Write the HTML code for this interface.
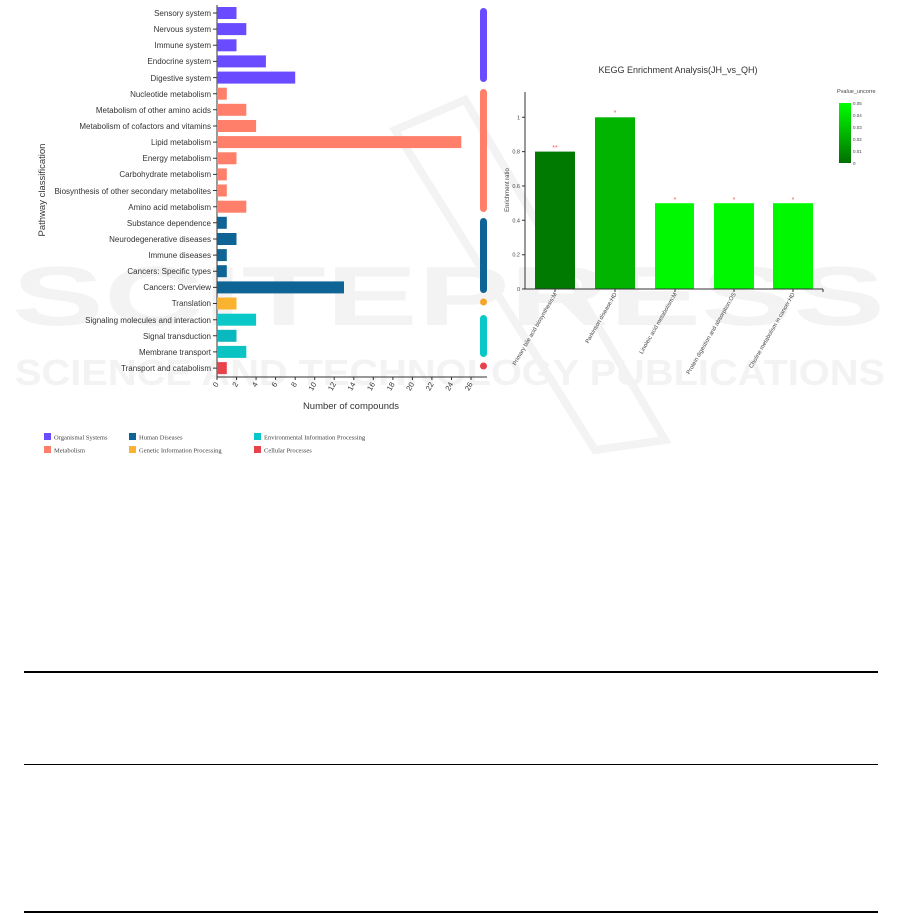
<!DOCTYPE html>
<html><head><meta charset="utf-8"><style>
html,body{margin:0;padding:0;background:#fff;}
svg{display:block;font-family:"Liberation Sans",sans-serif;}
</style></head><body>
<svg width="901" height="914" viewBox="0 0 901 914" xmlns="http://www.w3.org/2000/svg">
<!-- watermark -->
<g fill="#f3f3f3" font-weight="bold">
<text x="12" y="325" font-size="84" textLength="873" lengthAdjust="spacingAndGlyphs">SCITEPRESS</text>
<text x="15" y="385" font-size="36" textLength="870" lengthAdjust="spacingAndGlyphs">SCIENCE AND TECHNOLOGY PUBLICATIONS</text>
</g>
<path d="M395 130 L465 100 L665 440 L595 450 Z" fill="none" stroke="#f3f3f3" stroke-width="8"/>

<!-- LEFT CHART -->
<g font-size="8" fill="#333" text-anchor="end">
<text x="211" y="16">Sensory system</text>
<text x="211" y="32">Nervous system</text>
<text x="211" y="48">Immune system</text>
<text x="211" y="64">Endocrine system</text>
<text x="211" y="81">Digestive system</text>
<text x="211" y="97">Nucleotide metabolism</text>
<text x="211" y="113">Metabolism of other amino acids</text>
<text x="211" y="129">Metabolism of cofactors and vitamins</text>
<text x="211" y="145">Lipid metabolism</text>
<text x="211" y="161">Energy metabolism</text>
<text x="211" y="177">Carbohydrate metabolism</text>
<text x="211" y="194">Biosynthesis of other secondary metabolites</text>
<text x="211" y="210">Amino acid metabolism</text>
<text x="211" y="226">Substance dependence</text>
<text x="211" y="242">Neurodegenerative diseases</text>
<text x="211" y="258">Immune diseases</text>
<text x="211" y="274">Cancers: Specific types</text>
<text x="211" y="290">Cancers: Overview</text>
<text x="211" y="306">Translation</text>
<text x="211" y="323">Signaling molecules and interaction</text>
<text x="211" y="339">Signal transduction</text>
<text x="211" y="355">Membrane transport</text>
<text x="211" y="371">Transport and catabolism</text>
</g>
<g stroke="#333" stroke-width="1">
<line x1="217" y1="5" x2="217" y2="377"/>
<line x1="217" y1="377" x2="487" y2="377"/>
<path d="M213 13h4M213 29.1h4M213 45.3h4M213 61.4h4M213 77.6h4M213 93.7h4M213 109.8h4M213 126h4M213 142.1h4M213 158.3h4M213 174.4h4M213 190.5h4M213 206.7h4M213 222.8h4M213 239h4M213 255.1h4M213 271.2h4M213 287.4h4M213 303.5h4M213 319.7h4M213 335.8h4M213 351.9h4M213 368.1h4"/>
<path d="M217 377v3M236.5 377v3M256.1 377v3M275.6 377v3M295.2 377v3M314.7 377v3M334.2 377v3M353.8 377v3M373.3 377v3M392.9 377v3M412.4 377v3M431.9 377v3M451.5 377v3M471 377v3"/>
</g>
<g>
<rect x="217" y="7" width="19.5" height="12" fill="#6a4bff"/>
<rect x="217" y="23.1" width="29.3" height="12" fill="#6a4bff"/>
<rect x="217" y="39.3" width="19.5" height="12" fill="#6a4bff"/>
<rect x="217" y="55.4" width="48.9" height="12" fill="#6a4bff"/>
<rect x="217" y="71.6" width="78.2" height="12" fill="#6a4bff"/>
<rect x="217" y="87.7" width="9.8" height="12" fill="#ff7f6a"/>
<rect x="217" y="103.8" width="29.3" height="12" fill="#ff7f6a"/>
<rect x="217" y="120" width="39.1" height="12" fill="#ff7f6a"/>
<rect x="217" y="136.1" width="244.3" height="12" fill="#ff7f6a"/>
<rect x="217" y="152.3" width="19.5" height="12" fill="#ff7f6a"/>
<rect x="217" y="168.4" width="9.8" height="12" fill="#ff7f6a"/>
<rect x="217" y="184.5" width="9.8" height="12" fill="#ff7f6a"/>
<rect x="217" y="200.7" width="29.3" height="12" fill="#ff7f6a"/>
<rect x="217" y="216.8" width="9.8" height="12" fill="#0f6496"/>
<rect x="217" y="233" width="19.5" height="12" fill="#0f6496"/>
<rect x="217" y="249.1" width="9.8" height="12" fill="#0f6496"/>
<rect x="217" y="265.2" width="9.8" height="12" fill="#0f6496"/>
<rect x="217" y="281.4" width="127" height="12" fill="#0f6496"/>
<rect x="217" y="297.5" width="19.5" height="12" fill="#fbb32f"/>
<rect x="217" y="313.7" width="39.1" height="12" fill="#0ac8c8"/>
<rect x="217" y="329.8" width="19.5" height="12" fill="#0ab8c0"/>
<rect x="217" y="345.9" width="29.3" height="12" fill="#0ac4c4"/>
<rect x="217" y="362.1" width="9.8" height="12" fill="#e8434a"/>
</g>
<g>
<rect x="480" y="8" width="7" height="74" rx="3.5" fill="#6a4bff"/>
<rect x="480" y="89" width="7" height="123" rx="3.5" fill="#ff7f6a"/>
<rect x="480" y="218" width="7" height="75" rx="3.5" fill="#0f6496"/>
<circle cx="483.5" cy="302" r="3.5" fill="#f4a62a"/>
<rect x="480" y="315" width="7" height="42" rx="3.5" fill="#0ac8c8"/>
<circle cx="483.5" cy="366" r="3.5" fill="#e8434a"/>
</g>
<g font-size="7.5" fill="#333" text-anchor="end">
<text transform="translate(219,384) rotate(-60)">0</text>
<text transform="translate(238.5,384) rotate(-60)">2</text>
<text transform="translate(258.1,384) rotate(-60)">4</text>
<text transform="translate(277.6,384) rotate(-60)">6</text>
<text transform="translate(297.2,384) rotate(-60)">8</text>
<text transform="translate(316.7,384) rotate(-60)">10</text>
<text transform="translate(336.2,384) rotate(-60)">12</text>
<text transform="translate(355.8,384) rotate(-60)">14</text>
<text transform="translate(375.3,384) rotate(-60)">16</text>
<text transform="translate(394.9,384) rotate(-60)">18</text>
<text transform="translate(414.4,384) rotate(-60)">20</text>
<text transform="translate(433.9,384) rotate(-60)">22</text>
<text transform="translate(453.5,384) rotate(-60)">24</text>
<text transform="translate(473,384) rotate(-60)">26</text>
</g>
<text x="351" y="409" font-size="9.5" fill="#333" text-anchor="middle">Number of compounds</text>
<text transform="translate(45,190) rotate(-90)" font-size="9.5" fill="#333" text-anchor="middle">Pathway classification</text>
<g font-family="Liberation Serif,serif" font-size="6.5" fill="#444">
<rect x="44" y="433" width="7" height="7" fill="#6a4bff"/><text x="54" y="439.5">Organismal Systems</text>
<rect x="129" y="433" width="7" height="7" fill="#0f6496"/><text x="139" y="439.5">Human Diseases</text>
<rect x="254" y="433" width="7" height="7" fill="#0ac8c8"/><text x="264" y="439.5">Environmental Information Processing</text>
<rect x="44" y="446" width="7" height="7" fill="#ff7f6a"/><text x="54" y="452.5">Metabolism</text>
<rect x="129" y="446" width="7" height="7" fill="#fbb32f"/><text x="139" y="452.5">Genetic Information Processing</text>
<rect x="254" y="446" width="7" height="7" fill="#e8434a"/><text x="264" y="452.5">Cellular Processes</text>
</g>

<!-- RIGHT CHART -->
<text x="678" y="73" font-size="9" fill="#333" text-anchor="middle">KEGG Enrichment Analysis(JH_vs_QH)</text>
<rect x="535" y="151.6" width="40" height="137.4" fill="#007a00"/>
<rect x="595" y="117.3" width="40" height="171.7" fill="#00b400"/>
<rect x="655" y="203.2" width="39" height="85.8" fill="#00f800"/>
<rect x="714" y="203.2" width="40" height="85.8" fill="#00f800"/>
<rect x="773" y="203.2" width="40" height="85.8" fill="#00f800"/>
<g fill="#f06060" font-size="7" text-anchor="middle">
<text x="555" y="150">**</text><text x="615" y="115">*</text><text x="675" y="202">*</text><text x="734" y="202">*</text><text x="793" y="202">*</text>
</g>
<g stroke="#333" stroke-width="1">
<line x1="525" y1="92" x2="525" y2="289"/>
<line x1="525" y1="289" x2="823" y2="289"/>
<path d="M522 289h3M522 254.7h3M522 220.3h3M522 186h3M522 151.6h3M522 117.3h3M555 289v3M615 289v3M675 289v3M734 289v3M793 289v3M823 289v3"/>
</g>
<g font-size="5.5" fill="#444" text-anchor="end">
<text x="520" y="291">0</text><text x="520" y="256.7">0.2</text><text x="520" y="222.3">0.4</text><text x="520" y="188">0.6</text><text x="520" y="153.6">0.8</text><text x="520" y="119.3">1</text>
</g>
<text transform="translate(509,190) rotate(-90)" font-size="6" fill="#444" text-anchor="middle">Enrichment ratio</text>
<g font-size="5.8" fill="#444" text-anchor="end">
<text transform="translate(557,294) rotate(-60)">Primary bile acid biosynthesis:M</text>
<text transform="translate(617,294) rotate(-60)">Parkinson disease:HD</text>
<text transform="translate(677,294) rotate(-60)">Linoleic acid metabolism:M</text>
<text transform="translate(736,294) rotate(-60)">Protein digestion and absorption:OS</text>
<text transform="translate(795,294) rotate(-60)">Choline metabolism in cancer:HD</text>
</g>
<defs><linearGradient id="cb" x1="0" y1="0" x2="0" y2="1"><stop offset="0" stop-color="#00ff00"/><stop offset="1" stop-color="#007000"/></linearGradient></defs>
<text x="837" y="93" font-size="5.5" fill="#444">Pvalue_uncorre</text>
<rect x="839" y="103" width="12" height="60" fill="url(#cb)"/>
<g font-size="4.5" fill="#444"><text x="853" y="105">0.05</text><text x="853" y="117">0.04</text><text x="853" y="129">0.03</text><text x="853" y="141">0.02</text><text x="853" y="153">0.01</text><text x="853" y="165">0</text></g>

<!-- table lines -->
<rect x="24" y="671" width="854" height="2" fill="#000"/>
<rect x="24" y="764" width="854" height="1" fill="#000"/>
<rect x="24" y="911" width="854" height="2" fill="#000"/>
</svg>
</body></html>
